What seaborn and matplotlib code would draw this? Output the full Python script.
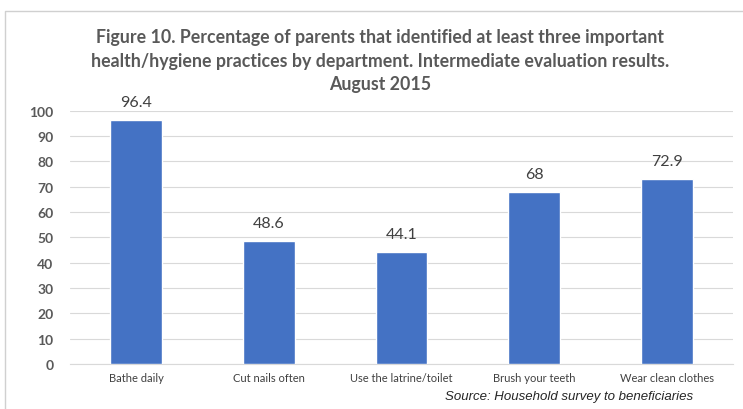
import matplotlib
matplotlib.use("Agg")
import matplotlib.pyplot as plt
import seaborn as sns
import pandas as pd

practices = ["Bathe daily", "Cut nails often", "Use the latrine/toilet",
             "Brush your teeth", "Wear clean clothes"]
percent = [96.4, 48.6, 44.1, 68, 72.9]
value_labels = ["96.4", "48.6", "44.1", "68", "72.9"]
y_ticks = [0, 10, 20, 30, 40, 50, 60, 70, 80, 90, 100]

df = pd.DataFrame({"practice": practices, "percent": percent})

sns.set_theme(style="white")
plt.rcParams["font.family"] = ["Lato", "DejaVu Sans"]

fig = plt.figure(figsize=(7.43, 4.10), dpi=100)
fig.patch.set_facecolor("white")

W, H = 743, 410
ax = fig.add_axes([70 / W, 1 - 365 / H, (733 - 70) / W, (365 - 111.7) / H])

sns.barplot(data=df, x="practice", y="percent", color="#4472C4",
            saturation=1, width=0.39, ax=ax, zorder=3)

ax.set_ylim(0, 100)
ax.set_yticks(y_ticks)
ax.set_yticklabels([str(t) for t in y_ticks], fontsize=10, fontweight="bold",
                   color="#595959")
ax.tick_params(axis="y", length=0, pad=12)
ax.tick_params(axis="x", length=0, pad=6)
for lbl in ax.get_xticklabels():
    lbl.set_fontsize(8)
    lbl.set_color("#404040")
ax.set_xlabel("")
ax.set_ylabel("")
ax.grid(axis="y", color="#d9d9d9", linewidth=0.8, zorder=0)
ax.set_axisbelow(True)
for side in ["top", "right", "left"]:
    ax.spines[side].set_visible(False)
ax.spines["bottom"].set_color("#d9d9d9")
ax.spines["bottom"].set_linewidth(0.8)

for patch, txt in zip(ax.patches, value_labels):
    ax.annotate(txt, (patch.get_x() + patch.get_width() / 2, patch.get_height()),
                xytext=(0, 8), textcoords="offset points", ha="center",
                va="bottom", fontsize=11.5, color="#404040")

fig.text(380 / W, 1 - 61 / H,
         "Figure 10. Percentage of parents that identified at least three important\n"
         "health/hygiene practices by department. Intermediate evaluation results.\n"
         "August 2015",
         ha="center", va="center", fontsize=12.8, fontweight="bold",
         color="#595959", linespacing=1.45)

fig.text(693 / W, 1 - 397 / H, "Source: Household survey to beneficiaries",
         ha="right", va="center", fontsize=9.5, style="italic",
         family=["Liberation Sans", "DejaVu Sans"], color="#262626")

# open chart frame along the left and top edges
frame = plt.Line2D([5 / W, 5 / W, 1.0], [0.0, 1 - 12 / H, 1 - 12 / H],
                   transform=fig.transFigure, color="#d0d0d0", linewidth=1.0)
fig.add_artist(frame)

fig.savefig("out.png", dpi=100)
